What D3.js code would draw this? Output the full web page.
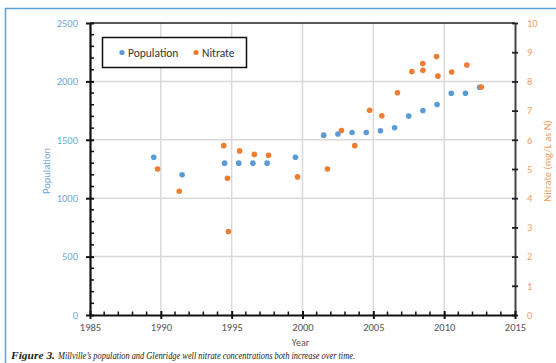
<!DOCTYPE html>
<html>
<head>
<meta charset="utf-8">
<script src="https://cdn.jsdelivr.net/npm/d3@7"></script>
<style>
  html, body { margin: 0; padding: 0; background: #fff; }
  svg { display: block; }
</style>
</head>
<body>
<svg id="chart" width="556" height="363"></svg>
<script>
const popYears = [1989.5, 1991.5, 1994.5, 1995.5, 1996.5, 1997.5, 1999.5, 2001.5, 2002.5, 2003.5, 2004.5, 2005.5, 2006.5, 2007.5, 2008.5, 2009.5, 2010.5, 2011.5, 2012.5];
const popValues = [1350, 1200, 1300, 1300, 1300, 1300, 1350, 1540, 1550, 1563, 1563, 1577, 1603, 1703, 1751, 1802, 1899, 1899, 1950];
const nitYears = [1989.77, 1991.3, 1994.44, 1994.7, 1994.77, 1995.56, 1996.6, 1997.6, 1999.65, 2001.76, 2002.75, 2003.69, 2004.74, 2005.6, 2006.7, 2007.72, 2008.49, 2008.5, 2009.46, 2009.56, 2010.53, 2011.6, 2012.62];
const nitValues = [5.0, 4.24, 5.8, 4.68, 2.86, 5.62, 5.5, 5.47, 4.73, 5.0, 6.32, 5.8, 7.01, 6.82, 7.61, 8.34, 8.61, 8.38, 8.85, 8.18, 8.32, 8.56, 7.81];
const xTicks = [1985, 1990, 1995, 2000, 2005, 2010, 2015];
const popTicks = [0, 500, 1000, 1500, 2000, 2500];
const nitTicks = [0, 1, 2, 3, 4, 5, 6, 7, 8, 9, 10];
const seriesNames = ["Population", "Nitrate"];
const caption = ["Figure 3.", "Millville’s population and Glenridge well nitrate concentrations both increase over time."];

const BLUE = "#5b9bd5", ORANGE = "#ed7d31";
const svg = d3.select("#chart");
const L = 90, R = 515, T = 23, B = 315;
const font = "Carlito, Lato, 'Open Sans', sans-serif";

const x = d3.scaleLinear().domain([1985, 2015]).range([L, R]);
const yP = d3.scaleLinear().domain([0, 2500]).range([B, T]);
const yN = d3.scaleLinear().domain([0, 10]).range([B, T]);

// outer frame (blue, top & left visible)
svg.append("rect").attr("x", 5.5).attr("y", 8.5).attr("width", 560).attr("height", 370)
  .attr("fill", "none").attr("stroke", "#5ba3d6").attr("stroke-width", 1.5);

// gridlines
const grid = svg.append("g");
grid.selectAll("line.v").data(xTicks.slice(1, -1)).join("line")
  .attr("x1", d => x(d)).attr("x2", d => x(d)).attr("y1", T).attr("y2", B)
  .attr("stroke", "#d9d9d9").attr("stroke-width", 1.5);
grid.selectAll("line.h").data(popTicks.slice(1, -1)).join("line")
  .attr("y1", d => yP(d)).attr("y2", d => yP(d)).attr("x1", L).attr("x2", R)
  .attr("stroke", "#d9d9d9").attr("stroke-width", 1.5);

// top border of plot
svg.append("line").attr("x1", L).attr("x2", R).attr("y1", T).attr("y2", T)
  .attr("stroke", "#222").attr("stroke-width", 1.5);

// left axis
const gL = svg.append("g").attr("transform", `translate(${L},0)`)
  .call(d3.axisLeft(yP).tickValues(popTicks).tickFormat(d3.format("d")).tickSize(4).tickSizeOuter(0).tickPadding(8));
gL.select(".domain").attr("stroke", "#111").attr("stroke-width", 2.2);
gL.selectAll(".tick line").attr("stroke", "#111").attr("stroke-width", 2).attr("x2", -4).attr("x1", 4);
gL.selectAll(".tick text").attr("fill", "#6fa8dc").style("font-family", font).style("font-size", "10.5px");
gL.selectAll("line.minor").data(d3.range(0, 2501, 100).filter(v => v % 500 !== 0)).join("line")
  .attr("class", "minor").attr("x1", 0).attr("x2", 4).attr("y1", d => yP(d)).attr("y2", d => yP(d))
  .attr("stroke", "#111").attr("stroke-width", 1.5);

// right axis
const gR = svg.append("g").attr("transform", `translate(${R},0)`)
  .call(d3.axisRight(yN).tickValues(nitTicks).tickSize(4).tickSizeOuter(0).tickPadding(8));
gR.select(".domain").attr("stroke", "#444").attr("stroke-width", 2);
gR.selectAll(".tick line").attr("stroke", "#222").attr("stroke-width", 1.8).attr("x1", -3).attr("x2", 3);
gR.selectAll(".tick text").attr("fill", "#f0a060").style("font-family", font).style("font-size", "10.5px");

// bottom axis
const gB = svg.append("g").attr("transform", `translate(0,${B})`)
  .call(d3.axisBottom(x).tickValues(xTicks).tickFormat(d3.format("d")).tickSize(4).tickSizeOuter(0).tickPadding(5));
gB.select(".domain").attr("stroke", "#111").attr("stroke-width", 2.2);
gB.selectAll(".tick line").attr("stroke", "#111").attr("stroke-width", 2).attr("y1", -4).attr("y2", 4);
gB.selectAll(".tick text").attr("fill", "#555").style("font-family", font).style("font-size", "10.5px");
gB.selectAll("line.minor").data(d3.range(1986, 2015).filter(v => v % 5 !== 0)).join("line")
  .attr("class", "minor").attr("x1", d => x(d)).attr("x2", d => x(d)).attr("y1", 0).attr("y2", -3.5)
  .attr("stroke", "#111").attr("stroke-width", 1.5);

// axis titles
svg.append("text").attr("transform", `translate(50,${(T + B) / 2 + 2}) rotate(-90)`)
  .attr("text-anchor", "middle").attr("fill", "#6fa8dc").style("font-family", font).style("font-size", "10.5px")
  .text("Population");
svg.append("text").attr("transform", `translate(551,${(T + B) / 2 - 8}) rotate(-90)`)
  .attr("text-anchor", "middle").attr("fill", "#f0a060").style("font-family", font).style("font-size", "10.5px")
  .text("Nitrate (mg/L as N)");
svg.append("text").attr("x", (L + R) / 2 - 2).attr("y", 346)
  .attr("text-anchor", "middle").attr("fill", "#555").style("font-family", font).style("font-size", "10px")
  .text("Year");

// points
svg.append("g").selectAll("circle").data(popYears.map((d, i) => [d, popValues[i]])).join("circle")
  .attr("cx", d => x(d[0])).attr("cy", d => yP(d[1])).attr("r", 2.8).attr("fill", BLUE);
svg.append("g").selectAll("circle").data(nitYears.map((d, i) => [d, nitValues[i]])).join("circle")
  .attr("cx", d => x(d[0])).attr("cy", d => yN(d[1])).attr("r", 2.8).attr("fill", ORANGE);

// legend
const lg = svg.append("g");
lg.append("rect").attr("x", 102.5).attr("y", 37.5).attr("width", 144).attr("height", 30)
  .attr("fill", "#fff").attr("stroke", "#111").attr("stroke-width", 1.5);
const items = [{ name: seriesNames[0], c: BLUE, cx: 122 }, { name: seriesNames[1], c: ORANGE, cx: 196 }];
items.forEach(it => {
  lg.append("circle").attr("cx", it.cx).attr("cy", 52.5).attr("r", 2.6).attr("fill", it.c);
  lg.append("text").attr("x", it.cx + 6).attr("y", 56.5).attr("fill", "#333")
    .style("font-family", font).style("font-size", "11.5px").text(it.name);
});

// caption
const capFont = "'Liberation Serif', 'DejaVu Serif', serif";
svg.append("text").attr("x", 11).attr("y", 359)
  .attr("textLength", 44).attr("lengthAdjust", "spacingAndGlyphs")
  .style("font-family", capFont).style("font-size", "10.3px")
  .style("font-style", "italic").style("font-weight", "bold").attr("fill", "#222")
  .text(caption[0]);
svg.append("text").attr("x", 58).attr("y", 359)
  .attr("textLength", 297).attr("lengthAdjust", "spacingAndGlyphs")
  .style("font-family", capFont).style("font-size", "10.3px")
  .style("font-style", "italic").attr("fill", "#222")
  .text(caption[1]);
</script>
</body>
</html>
